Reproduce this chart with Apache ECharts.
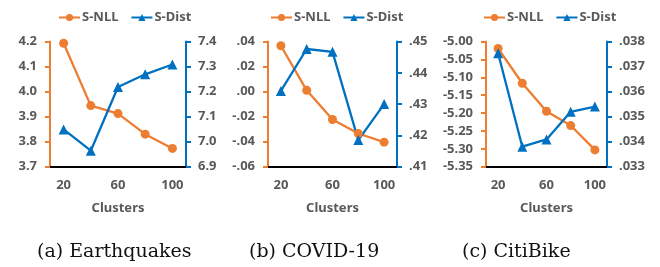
<!DOCTYPE html>
<html><head><meta charset="utf-8">
<script src="https://cdn.jsdelivr.net/npm/echarts@6/dist/echarts.min.js"></script>
<style>html,body{margin:0;padding:0;background:#fff}#c{width:660px;height:267px}</style>
</head><body><div id="c"></div>
<script>
const clusters = ['20', '40', '60', '80', '100'];
const seriesNames = ['S-NLL', 'S-Dist'];
const captions = ['(a) Earthquakes', '(b) COVID-19', '(c) CitiBike'];
const xAxisTitle = 'Clusters';

const nllEarthquakes = [4.193, 3.944, 3.912, 3.830, 3.773];
const distEarthquakes = [7.049, 6.964, 7.218, 7.269, 7.308];
const nllCovid = [0.0366, 0.0010, -0.0223, -0.0335, -0.0404];
const distCovid = [0.4342, 0.4476, 0.4467, 0.4185, 0.4300];
const nllCiti = [-5.0196, -5.1167, -5.1950, -5.2350, -5.3030];
const distCiti = [0.03753, 0.03380, 0.03409, 0.03519, 0.03540];

// axis ranges: [min, max, interval, decimals, stripLeadingZero]
const leftRanges = [[3.7, 4.2, 0.1, 1, false], [-0.06, 0.04, 0.02, 2, true], [-5.35, -5.00, 0.05, 2, false]];
const rightRanges = [[6.9, 7.4, 0.1, 1, false], [0.41, 0.45, 0.01, 2, true], [0.033, 0.038, 0.001, 3, true]];

const nllData = [nllEarthquakes, nllCovid, nllCiti];
const distData = [distEarthquakes, distCovid, distCiti];

const ORANGE = '#ED7D31', BLUE = '#0070C0', GRAY = '#595959';
const FONT = '"Noto Sans", "Open Sans", sans-serif';

const grids = [
  {left: 50, width: 136, top: 41.5, height: 125.2},
  {left: 268, width: 129, top: 41.5, height: 125.2},
  {left: 486, width: 121, top: 41.5, height: 125.2}
];
const legendCenters = [119, 331, 544];
const captionCenters = [117, 329, 542];

function fmt(dec, strip) {
  return function (v) {
    let s = Number(v).toFixed(dec);
    if (strip) s = s.replace('0.', '.');
    return s;
  };
}

const option = {
  animation: false,
  grid: grids.map(g => Object.assign({containLabel: false}, g)),
  legend: grids.map((g, i) => ({
    top: 6, left: legendCenters[i] - 66, width: 140,
    orient: 'horizontal',
    itemWidth: 21, itemHeight: 9, itemGap: 12,
    data: [seriesNames[0] + '\u200B'.repeat(i), seriesNames[1] + '\u200B'.repeat(i)],
    textStyle: {color: GRAY, fontWeight: 'bold', fontSize: 13, fontFamily: FONT, padding: [0, 0, 0, -3]}
  })),
  xAxis: grids.map((g, i) => ({
    type: 'category', gridIndex: i, data: clusters, boundaryGap: true,
    name: xAxisTitle, nameLocation: 'middle', nameGap: 35,
    nameTextStyle: {color: GRAY, fontWeight: 'bold', fontSize: 13, fontFamily: FONT},
    axisLine: {onZero: false, lineStyle: {color: '#000', width: 2}},
    axisTick: {show: false},
    axisLabel: {color: GRAY, fontWeight: 'bold', fontSize: 13, fontFamily: FONT, margin: 12}
  })),
  yAxis: [],
  series: [],
  graphic: captions.map((t, i) => ({
    type: 'text', left: captionCenters[i] - 80, top: 243,
    style: {text: t, fill: '#111', font: '19px "DejaVu Serif", serif', width: 160, align: 'center'}
  }))
};

for (let i = 0; i < 3; i++) {
  const L = leftRanges[i], R = rightRanges[i];
  option.yAxis.push({
    type: 'value', gridIndex: i, position: 'left', min: L[0], max: L[1], interval: L[2],
    splitLine: {show: false},
    axisLine: {show: true, onZero: false, lineStyle: {color: ORANGE, width: 2}},
    axisTick: {show: true, length: 5, lineStyle: {color: ORANGE, width: 2}},
    axisLabel: {color: GRAY, fontWeight: 'bold', fontSize: 13, fontFamily: FONT, margin: 13, formatter: fmt(L[3], L[4])}
  });
  option.yAxis.push({
    type: 'value', gridIndex: i, position: 'right', min: R[0], max: R[1], interval: R[2],
    splitLine: {show: false},
    axisLine: {show: true, onZero: false, lineStyle: {color: BLUE, width: 2}},
    axisTick: {show: true, length: 5, lineStyle: {color: BLUE, width: 2}},
    axisLabel: {color: GRAY, fontWeight: 'bold', fontSize: 13, fontFamily: FONT, margin: 12, formatter: fmt(R[3], R[4])}
  });
  option.series.push({
    type: 'line', name: seriesNames[0] + '\u200B'.repeat(i), xAxisIndex: i, yAxisIndex: 2 * i,
    data: nllData[i], symbol: 'circle', symbolSize: 9,
    lineStyle: {color: ORANGE, width: 2.3}, itemStyle: {color: ORANGE}
  });
  option.series.push({
    type: 'line', name: seriesNames[1] + '\u200B'.repeat(i), xAxisIndex: i, yAxisIndex: 2 * i + 1,
    data: distData[i], symbol: 'triangle', symbolSize: 10,
    lineStyle: {color: BLUE, width: 2.3}, itemStyle: {color: BLUE}
  });
}

const chart = echarts.init(document.getElementById('c'), null, {renderer: 'canvas'});
chart.setOption(option);
</script></body></html>
